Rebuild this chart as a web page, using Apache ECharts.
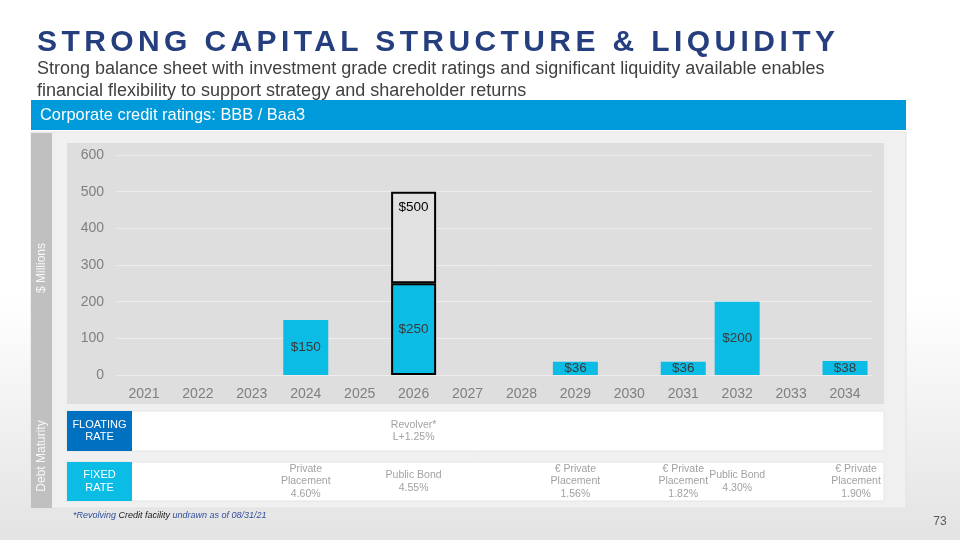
<!DOCTYPE html>
<html>
<head>
<meta charset="utf-8">
<script src="https://cdn.jsdelivr.net/npm/echarts@6/dist/echarts.min.js"></script>
<style>
  html, body { margin: 0; padding: 0; }
  #wrap { position: relative; width: 960px; height: 540px; }
  #chart { position: absolute; left: 0; top: 0; width: 960px; height: 540px; }
  #title { position: absolute; left: 37px; top: 23px; font-family: "Liberation Sans", Arial, sans-serif;
           font-weight: bold; font-size: 30px; letter-spacing: 4.4px; color: #253e7e; white-space: nowrap; line-height: 36px; }
</style>
</head>
<body>
<div id="wrap">
  <div id="chart"></div>
  <div id="title">STRONG CAPITAL STRUCTURE &amp; LIQUIDITY</div>
</div>
<script>
// ---- data ----
const years = ['2021','2022','2023','2024','2025','2026','2027','2028','2029','2030','2031','2032','2033','2034'];
const maturities = [null, null, null, 150, null, 250, null, null, 36, null, 36, 200, null, 38];
const revolverUndrawn = [null, null, null, null, null, 250, null, null, null, null, null, null, null, null];
const revolverYear = '2026';
const floatingNotes = [
  { year: '2026', text: 'Revolver*\nL+1.25%' }
];
const fixedNotes = [
  { year: '2024', text: 'Private\nPlacement\n4.60%' },
  { year: '2026', text: 'Public Bond\n4.55%' },
  { year: '2029', text: '€ Private\nPlacement\n1.56%' },
  { year: '2031', text: '€ Private\nPlacement\n1.82%' },
  { year: '2032', text: 'Public Bond\n4.30%' },
  { year: '2034', text: '€ Private\nPlacement\n1.90%' }
];
const yMin = 0, yMax = 600, yStep = 100;

const FONT = '"Liberation Sans", Arial, sans-serif';
const CYAN = '#0bbce4';

const chart = echarts.init(document.getElementById('chart'), null, { renderer: 'canvas' });

const baseData = maturities.map((v, i) => {
  if (years[i] === revolverYear && v != null) {
    return { value: v, itemStyle: { borderColor: '#000', borderWidth: 2 } };
  }
  return v;
});

function noteSeries(notes, gridIdx) {
  return {
    type: 'scatter',
    xAxisIndex: gridIdx, yAxisIndex: gridIdx,
    symbolSize: 0,
    silent: true,
    z: 5,
    data: notes.map(n => ({
      value: [n.year, 0],
      note: n.text,
      label: n.year === '2034' ? { offset: [11, 0] } : undefined
    })),
    label: {
      show: true, position: 'inside',
      formatter: p => p.data.note,
      color: '#8a8a8a', fontSize: 10.5, lineHeight: 12.5, fontFamily: FONT, align: 'center'
    }
  };
}

const option = {
  animation: false,
  backgroundColor: {
    type: 'linear', x: 0, y: 0, x2: 0, y2: 1,
    colorStops: [{ offset: 0, color: '#ffffff' }, { offset: 0.55, color: '#ffffff' }, { offset: 1, color: '#e3e3e3' }]
  },
  textStyle: { fontFamily: FONT },
  graphic: [
    // panel
    { type: 'rect', shape: { x: 31, y: 132, width: 875, height: 376 },
      style: { fill: '#f0f0f0', stroke: '#e2e2e2', lineWidth: 1 }, z: -10 },
    // plot background
    { type: 'rect', shape: { x: 67, y: 143, width: 817, height: 261 }, style: { fill: '#dedede' }, z: -5 },
    // floating row
    { type: 'rect', shape: { x: 67, y: 411, width: 817, height: 40 }, style: { fill: '#ffffff', stroke: '#e4e4e4', lineWidth: 1 }, z: -5 },
    // fixed row
    { type: 'rect', shape: { x: 67, y: 462, width: 817, height: 39 }, style: { fill: '#ffffff', stroke: '#e4e4e4', lineWidth: 1 }, z: -5 },
    // subtitle
    { type: 'text', left: 37, top: 58, z: 10,
      style: { text: 'Strong balance sheet with investment grade credit ratings and significant liquidity available enables\nfinancial flexibility to support strategy and shareholder returns',
        fill: '#404040', font: '18px ' + FONT, lineHeight: 22 } },
    // banner
    { type: 'rect', shape: { x: 31, y: 100, width: 875, height: 30 }, style: { fill: '#009ada' }, z: 1 },
    { type: 'text', left: 40, top: 107, z: 10,
      style: { text: 'Corporate credit ratings: BBB / Baa3', fill: '#ffffff', font: '16.4px ' + FONT } },
    // left strip
    { type: 'rect', shape: { x: 31, y: 133, width: 21, height: 375 }, style: { fill: '#c0c0c0' }, z: 1 },
    { type: 'text', x: 42, y: 268, rotation: Math.PI / 2, z: 10,
      style: { text: '$ Millions', fill: '#f7f7f7', font: '12px ' + FONT, align: 'center', verticalAlign: 'middle' } },
    { type: 'text', x: 42, y: 456, rotation: Math.PI / 2, z: 10,
      style: { text: 'Debt Maturity', fill: '#f7f7f7', font: '12px ' + FONT, align: 'center', verticalAlign: 'middle' } },
    // rate label boxes
    { type: 'rect', shape: { x: 67, y: 411, width: 65, height: 40 }, style: { fill: '#0070c0' }, z: 1 },
    { type: 'text', x: 99.5, y: 431, z: 10,
      style: { text: 'FLOATING\nRATE', fill: '#ffffff', font: '11px ' + FONT, lineHeight: 12.5, align: 'center', verticalAlign: 'middle' } },
    { type: 'rect', shape: { x: 67, y: 462, width: 65, height: 39 }, style: { fill: CYAN }, z: 1 },
    { type: 'text', x: 99.5, y: 481.5, z: 10,
      style: { text: 'FIXED\nRATE', fill: '#ffffff', font: '11px ' + FONT, lineHeight: 12.5, align: 'center', verticalAlign: 'middle' } },
    // footnote
    { type: 'text', left: 73, top: 511, z: 10,
      style: { text: '{b|*Revolving }{k|Credit facility }{b|undrawn as of 08/31/21}',
        rich: {
          b: { fill: '#2f4f9a', font: 'italic 9px ' + FONT },
          k: { fill: '#1a1a1a', font: 'italic 9px ' + FONT }
        } } },
    // page number
    { type: 'text', x: 940, y: 522, z: 10,
      style: { text: '73', fill: '#595959', font: '12px ' + FONT, align: 'center', verticalAlign: 'middle' } }
  ],
  grid: [
    { left: 117, right: 88, top: 155, bottom: 165 },
    { left: 117, right: 88, top: 411, height: 40 },
    { left: 117, right: 88, top: 462, height: 39 }
  ],
  xAxis: [
    { type: 'category', data: years, gridIndex: 0,
      axisLine: { show: false }, axisTick: { show: false },
      axisLabel: { color: '#7f7f7f', fontSize: 14, margin: 12, fontFamily: FONT } },
    { type: 'category', data: years, gridIndex: 1, show: false },
    { type: 'category', data: years, gridIndex: 2, show: false }
  ],
  yAxis: [
    { type: 'value', gridIndex: 0, min: yMin, max: yMax, interval: yStep,
      axisLine: { show: false }, axisTick: { show: false },
      axisLabel: { color: '#7f7f7f', fontSize: 14, margin: 13, fontFamily: FONT },
      splitLine: { lineStyle: { color: '#ededed', width: 1 } } },
    { type: 'value', gridIndex: 1, min: -1, max: 1, show: false },
    { type: 'value', gridIndex: 2, min: -1, max: 1, show: false }
  ],
  series: [
    { type: 'bar', name: 'Debt maturities', stack: 'debt', barWidth: 45,
      xAxisIndex: 0, yAxisIndex: 0,
      data: baseData,
      itemStyle: { color: CYAN },
      label: { show: true, position: 'inside', formatter: p => p.value ? '$' + p.value : '',
        color: '#3a3a3a', fontSize: 13.5, fontFamily: FONT } },
    { type: 'bar', name: 'Revolver', stack: 'debt', barWidth: 45,
      xAxisIndex: 0, yAxisIndex: 0,
      data: revolverUndrawn,
      itemStyle: { color: '#e1e1e1', borderColor: '#000', borderWidth: 2 },
      label: { show: true, position: 'insideTop', distance: 9,
        formatter: p => p.value ? '$' + (p.value + (maturities[p.dataIndex] || 0)) : '',
        color: '#000000', fontSize: 13.5, fontFamily: FONT } },
    noteSeries(floatingNotes, 1),
    noteSeries(fixedNotes, 2)
  ]
};
chart.setOption(option);
</script>
</body>
</html>
